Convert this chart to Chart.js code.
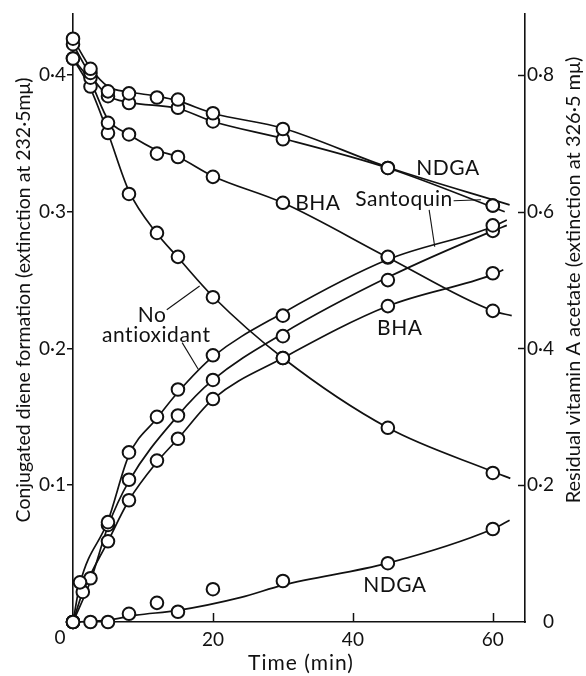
<!DOCTYPE html>
<html>
<head>
<meta charset="utf-8">
<script src="https://cdn.jsdelivr.net/npm/chart.js@4.4.1/dist/chart.umd.min.js"></script>
<style>
  html, body { margin: 0; padding: 0; background: #fff; }
  canvas { display: block; }
</style>
</head>
<body>
<canvas id="chart" width="586" height="676"></canvas>
<script>
// Conjugated diene formation, left axis (extinction at 232.5 mμ)
const noAntioxDieneT = [0, 1, 5, 8, 12, 15, 20, 30, 45, 60];
const noAntioxDiene  = [0, 0.029, 0.073, 0.124, 0.150, 0.170, 0.195, 0.224, 0.267, 0.290];
const santoDieneT    = [0, 2.5, 5, 8, 15, 20, 30, 45, 60];
const santoDiene     = [0, 0.032, 0.071, 0.104, 0.151, 0.177, 0.209, 0.250, 0.286];
const bhaDieneT      = [0, 1.4, 5, 8, 12, 15, 20, 30, 45, 60];
const bhaDiene       = [0, 0.022, 0.059, 0.089, 0.118, 0.134, 0.163, 0.193, 0.231, 0.255];
const ndgaDieneT     = [0, 2.5, 5, 8, 12, 15, 20, 30, 45, 60];
const ndgaDiene      = [0, 0, 0, 0.006, 0.014, 0.0075, 0.024, 0.030, 0.043, 0.068];

// Residual vitamin A acetate, right axis (extinction at 326.5 mμ)
const ndgaResT       = [0, 2.5, 5, 8, 12, 15, 20, 30, 45, 60];
const ndgaRes        = [0.853, 0.809, 0.776, 0.773, 0.767, 0.764, 0.744, 0.721, 0.664, 0.609];
const santoResT      = [0, 2.5, 5, 8, 15, 20, 30, 45, 60];
const santoRes       = [0.845, 0.803, 0.769, 0.759, 0.752, 0.732, 0.706, 0.664, 0.609];
const bhaResT        = [0, 2.5, 5, 8, 12, 15, 20, 30, 45, 60];
const bhaRes         = [0.824, 0.796, 0.730, 0.713, 0.685, 0.680, 0.651, 0.613, 0.533, 0.455];
const noAntioxResT   = [0, 2.5, 5, 8, 12, 15, 20, 30, 45, 60];
const noAntioxRes    = [0.824, 0.783, 0.715, 0.626, 0.569, 0.534, 0.475, 0.386, 0.284, 0.218];

// drawn curves through the readings, [time, value]
const noAntioxDieneCurve = [[0, 0], [1, 0.028], [5, 0.074], [8, 0.122], [12, 0.149], [15, 0.168], [20, 0.194], [30, 0.226], [45, 0.265], [60, 0.289], [62, 0.294]];
const santoDieneCurve    = [[0, 0], [2.5, 0.030], [5, 0.070], [8, 0.103], [15, 0.151], [20, 0.177], [30, 0.211], [45, 0.252], [60, 0.286], [62, 0.290]];
const bhaDieneCurve      = [[0, 0], [1.4, 0.022], [5, 0.059], [8, 0.089], [12, 0.117], [15, 0.134], [20, 0.163], [30, 0.193], [45, 0.231], [60, 0.254], [61.5, 0.2575]];
const ndgaDieneCurve     = [[0, 0], [5, 0.0014], [9, 0.005], [15, 0.0085], [24, 0.018], [30, 0.027], [45, 0.043], [60, 0.068], [62.4, 0.0744]];
const ndgaResCurve       = [[0, 0.853], [2.5, 0.810], [5, 0.783], [8, 0.775], [12, 0.769], [15, 0.762], [20, 0.744], [30, 0.722], [45, 0.665], [62.4, 0.610]];
const santoResCurve      = [[0, 0.845], [2.5, 0.800], [5, 0.770], [8, 0.760], [15, 0.751], [20, 0.732], [30, 0.707], [45, 0.664], [61.7, 0.600]];
const bhaResCurve        = [[0, 0.824], [2.5, 0.790], [5, 0.735], [8, 0.713], [12, 0.690], [15, 0.680], [20, 0.652], [30, 0.613], [45, 0.533], [60, 0.455], [62.7, 0.448]];
const noAntioxResCurve   = [[0, 0.824], [2.5, 0.780], [5, 0.715], [8, 0.630], [12, 0.568], [15, 0.533], [20, 0.476], [30, 0.386], [45, 0.284], [60, 0.220], [62.5, 0.210]];

// curve names, placed in time / left-axis units
const labelText = ['NDGA', 'BHA', 'Santoquin', 'No', 'antioxidant', 'BHA', 'NDGA'];
const labelT    = [53.6, 35.0, 47.3, 11.3, 11.9, 46.7, 46.0];
const labelV    = [0.332, 0.306, 0.309, 0.2246, 0.2094, 0.2145, 0.0268];
// leader lines from names to curves: [t1, v1, t2, v2]
const leaders = [
  [54.4, 0.308, 58.3, 0.3087],
  [50.9, 0.3014, 51.7, 0.2744],
  [13.4, 0.2283, 18.1, 0.2457],
  [15.6, 0.2043, 17.9, 0.1848],
];

const FONT = 'Lato, "Noto Sans", sans-serif';
const INK = '#111';

const pts = (ts, vs) => ts.map((t, i) => ({ x: t, y: vs[i] }));
const knots = (c) => c.map(([t, v]) => ({ x: t, y: v }));
const fmt = (v) => (v === 0 ? '0' : v.toFixed(1).replace('.', '·'));

function curve(data, axis) {
  return {
    data: knots(data), yAxisID: axis, showLine: true, parsing: false,
    borderColor: INK, borderWidth: 1.7, pointRadius: 0,
    cubicInterpolationMode: 'monotone', fill: false, order: 2, clip: false,
  };
}
function marks(ts, vs, axis) {
  return {
    data: pts(ts, vs), yAxisID: axis, showLine: false, parsing: false,
    pointRadius: 6.3, pointBorderWidth: 2, pointBorderColor: INK,
    pointBackgroundColor: '#fff', order: 1, clip: false,
  };
}

const datasets = [
  curve(noAntioxDieneCurve, 'y'), curve(santoDieneCurve, 'y'),
  curve(bhaDieneCurve, 'y'), curve(ndgaDieneCurve, 'y'),
  curve(ndgaResCurve, 'y2'), curve(santoResCurve, 'y2'),
  curve(bhaResCurve, 'y2'), curve(noAntioxResCurve, 'y2'),
  marks(noAntioxDieneT, noAntioxDiene, 'y'), marks(santoDieneT, santoDiene, 'y'),
  marks(bhaDieneT, bhaDiene, 'y'), marks(ndgaDieneT, ndgaDiene, 'y'),
  marks(ndgaResT, ndgaRes, 'y2'), marks(santoResT, santoRes, 'y2'),
  marks(bhaResT, bhaRes, 'y2'), marks(noAntioxResT, noAntioxRes, 'y2'),
];

function seg(ctx, x1, y1, x2, y2) {
  ctx.beginPath(); ctx.moveTo(x1, y1); ctx.lineTo(x2, y2); ctx.stroke();
}

const decorPlugin = {
  id: 'decor',
  afterDraw(chart) {
    const { ctx, chartArea: a } = chart;
    const { x, y, y2 } = chart.scales;
    ctx.save();
    ctx.strokeStyle = INK; ctx.fillStyle = INK; ctx.lineWidth = 1.5;

    // inward ticks on the time axis and the right axis
    for (const t of x.ticks) {
      if (t.value === 0) continue;
      const px = Math.round(x.getPixelForValue(t.value)) + 0.5;
      seg(ctx, px, a.bottom, px, a.bottom - 9);
    }
    for (const t of y2.ticks) {
      if (t.value === 0) continue;
      const py = Math.round(y2.getPixelForValue(t.value)) + 0.5;
      seg(ctx, a.right - 7, py, a.right, py);
    }

    // origin label shared by both axes
    ctx.font = `19px ${FONT}`;
    ctx.textAlign = 'center'; ctx.textBaseline = 'middle';
    ctx.fillText('0', x.getPixelForValue(0) - 13, a.bottom + 16);

    // curve names and leaders
    ctx.font = `21px ${FONT}`;
    ctx.letterSpacing = '0.5px';
    labelText.forEach((s, i) => ctx.fillText(s, x.getPixelForValue(labelT[i]), y.getPixelForValue(labelV[i])));
    ctx.letterSpacing = '0px';
    ctx.lineWidth = 1.1;
    for (const [t1, v1, t2, v2] of leaders) {
      seg(ctx, x.getPixelForValue(t1), y.getPixelForValue(v1), x.getPixelForValue(t2), y.getPixelForValue(v2));
    }

    // axis titles, both read bottom to top
    ctx.font = `19.5px ${FONT}`;
    ctx.save();
    ctx.translate(24, 300); ctx.rotate(-Math.PI / 2);
    ctx.fillText('Conjugated diene formation (extinction at 232·5mμ)', 0, 0);
    ctx.restore();
    ctx.font = `20px ${FONT}`;
    ctx.save();
    ctx.translate(574, 280); ctx.rotate(-Math.PI / 2);
    ctx.fillText('Residual vitamin A acetate (extinction at 326·5 mμ)', 0, 0);
    ctx.restore();
    ctx.font = `21px ${FONT}`;
    ctx.letterSpacing = '1px';
    ctx.fillText('Time (min)', (a.left + a.right) / 2 + 2, a.bottom + 41);
    ctx.restore();
  },
};

const tickFont = { family: FONT, size: 19 };

new Chart(document.getElementById('chart'), {
  type: 'scatter',
  data: { datasets },
  options: {
    responsive: false, animation: false,
    // right padding keeps room for the right-hand title
    layout: { padding: { top: 8, left: 0, right: 32, bottom: 0 } },
    plugins: { legend: { display: false }, tooltip: { enabled: false } },
    scales: {
      x: {
        type: 'linear', min: 0, max: 64.6,
        afterFit: (s) => { s.height = 54; },
        grid: { display: false, drawTicks: false },
        border: { display: true, color: INK, width: 1.6 },
        ticks: { stepSize: 20, includeBounds: false, padding: 6, color: INK, font: tickFont,
                 callback: (v) => (v === 0 ? '' : String(v)) },
      },
      y: {
        position: 'left', min: 0, max: 0.445,
        afterFit: (s) => { s.width = 73; },
        grid: { drawOnChartArea: false, tickLength: 6, color: INK, lineWidth: 1.5 },
        border: { display: true, color: INK, width: 1.6 },
        ticks: { stepSize: 0.1, includeBounds: false, padding: 1, color: INK, font: tickFont,
                 callback: (v) => (v === 0 ? '' : fmt(v)) },
      },
      y2: {
        position: 'right', min: 0, max: 0.89,
        afterFit: (s) => { s.width = 29; },
        grid: { display: false, drawTicks: false },
        border: { display: true, color: INK, width: 1.6 },
        ticks: { stepSize: 0.2, includeBounds: false, padding: 2, crossAlign: 'far', color: INK, font: tickFont,
                 callback: (v) => fmt(v) },
      },
    },
  },
  plugins: [decorPlugin],
});
</script>
</body>
</html>
